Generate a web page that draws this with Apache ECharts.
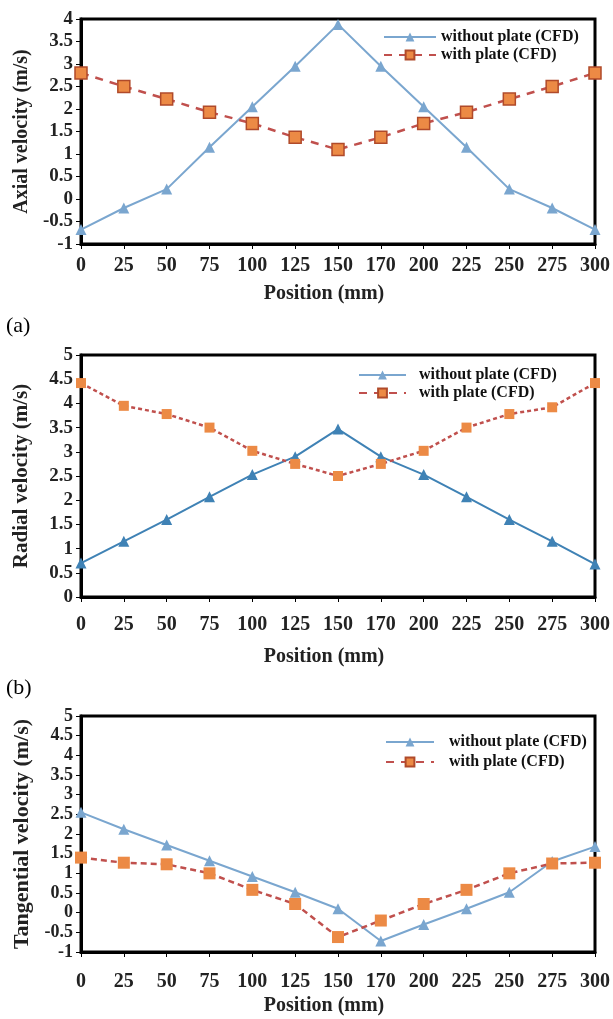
<!DOCTYPE html>
<html><head><meta charset="utf-8">
<script src="https://cdn.jsdelivr.net/npm/echarts@6/dist/echarts.min.js"></script>
<style>html,body{margin:0;padding:0;background:#fff;}#c{width:613px;height:1019px;}</style>
</head><body><div id="c"></div>
<script>
const positions = ['0','25','50','75','100','125','150','170','200','225','250','275','300'];
const axialWithout = [-0.68,-0.2,0.22,1.15,2.05,2.95,3.88,2.95,2.05,1.15,0.22,-0.2,-0.68];
const axialWith = [2.8,2.5,2.22,1.93,1.68,1.37,1.1,1.37,1.68,1.93,2.22,2.5,2.8];
const radialWithout = [0.7,1.15,1.6,2.07,2.53,2.9,3.47,2.9,2.53,2.07,1.6,1.15,0.68];
const radialWith = [4.42,3.95,3.78,3.5,3.02,2.75,2.5,2.75,3.02,3.5,3.78,3.92,4.42];
const tangWithout = [2.55,2.12,1.72,1.32,0.92,0.52,0.1,-0.72,-0.3,0.1,0.52,1.3,1.68];
const tangWith = [1.4,1.27,1.23,1.0,0.58,0.22,-0.62,-0.2,0.22,0.58,1.0,1.25,1.27];
const seriesNames = ['without plate (CFD)','with plate (CFD)'];
const yTitles = ['Axial velocity (m/s)','Radial velocity (m/s)','Tangential velocity (m/s)'];
const panelLabels = ['(a)','(b)'];

const FONT = '"Liberation Serif", "Times New Roman", serif';
const chart = echarts.init(document.getElementById('c'));

const grids = [
  {left:81, right:15, top:19, height:225},
  {left:81, right:15, top:355, height:242},
  {left:81, right:15, top:716, height:236}
];
const yRanges = [[-1,4],[0,5],[-1,5]];
const xMargins = [12,18,20];
const xNameGaps = [40,50,44];
const yNameSizes = [20,21,22];
const yLabelSizes = [19,19,18];

function xAxis(i){
  return {
    type:'category', gridIndex:i, data:positions, boundaryGap:false,
    name:'Position (mm)', nameLocation:'middle', nameGap:xNameGaps[i],
    nameTextStyle:{fontFamily:FONT, fontWeight:'bold', fontSize:20, color:'#222', padding:[0,28,0,0]},
    axisLine:{onZero:false, lineStyle:{color:'#000', width:3}},
    axisTick:{show:true, inside:false, length:5, alignWithLabel:true, lineStyle:{color:'#000', width:1}},
    axisLabel:{fontFamily:FONT, fontWeight:'bold', fontSize:20, color:'#222', margin:xMargins[i], interval:0},
    splitLine:{show:false}
  };
}
function yAxis(i){
  return {
    type:'value', gridIndex:i, min:yRanges[i][0], max:yRanges[i][1], interval:0.5,
    name:yTitles[i], nameLocation:'middle', nameGap:59 - yNameSizes[i]/2,
    nameTextStyle:{fontFamily:FONT, fontWeight:'bold', fontSize:yNameSizes[i], color:'#222'},
    axisLine:{show:true, onZero:false, lineStyle:{color:'#000', width:3}},
    axisTick:{show:true, inside:false, length:5, lineStyle:{color:'#000', width:1}},
    axisLabel:{fontFamily:FONT, fontWeight:'bold', fontSize:yLabelSizes[i], color:'#222', margin:8},
    splitLine:{show:false}
  };
}
const blueA = '#7aa6cf', blueB = '#3f82b5';
const redLine = '#c0504d';
const sq = '#ec8a45';
const dataSets = [[axialWithout, axialWith],[radialWithout, radialWith],[tangWithout, tangWith]];
const blues = [blueA, blueB, blueA];
const dashTypes = [[8,7],[4,3],[6,4]];
const series = [];
for (let i=0;i<3;i++){
  series.push({
    name:seriesNames[0], type:'line', xAxisIndex:i, yAxisIndex:i, data:dataSets[i][0],
    symbol:'triangle', symbolSize:11, lineStyle:{color:blues[i], width:2},
    itemStyle:{color:blues[i]}, z:3
  });
  series.push({
    name:seriesNames[1], type:'line', xAxisIndex:i, yAxisIndex:i, data:dataSets[i][1],
    symbol:'rect', symbolSize:i===1?10:12,
    lineStyle:{color:redLine, width:2.5, type:dashTypes[i]},
    itemStyle:{color:sq, borderColor:i===0?'#b04a2a':sq, borderWidth:i===0?1.5:0}, z:4
  });
}
const legendPos = [
  {left:383, top:29, w:52, gap:2, pad:0},
  {left:358, top:367, w:47, gap:2, pad:8},
  {left:385, top:734, w:48, gap:4, pad:10}
];
const legends = legendPos.map((p,i)=>({
  orient:'vertical', left:p.left, top:p.top, itemWidth:p.w, itemHeight:11, itemGap:p.gap, padding:0,
  data:seriesNames.map(n=>({name:n})),
  textStyle:{fontFamily:FONT, fontWeight:'bold', fontSize:16, color:'#111', padding:[0,0,0,p.pad]},
  selectedMode:false
}));

chart.setOption({
  animation:false,
  backgroundColor:'#fff',
  grid:grids.map(g=>Object.assign({show:true, borderColor:'#000', borderWidth:3, backgroundColor:'transparent'}, g)),
  xAxis:[0,1,2].map(xAxis),
  yAxis:[0,1,2].map(yAxis),
  legend:legends,
  series:series,
  graphic:[
    {type:'text', left:6, top:315, style:{text:panelLabels[0], font:'22px '+FONT, fill:'#000'}},
    {type:'text', left:6, top:677, style:{text:panelLabels[1], font:'22px '+FONT, fill:'#000'}}
  ]
});
</script></body></html>
